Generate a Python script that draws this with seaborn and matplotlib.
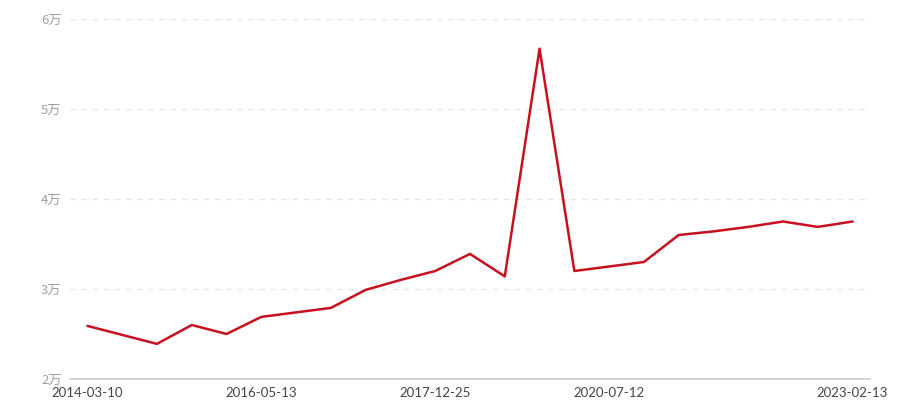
import seaborn as sns
import matplotlib.pyplot as plt
import pandas as pd

# data (23 categories, only some labelled)
tick_pos = [0, 5, 10, 15, 22]
tick_labels = ['2014-03-10', '2016-05-13', '2017-12-25', '2020-07-12', '2023-02-13']
values = [25900, 24900, 23900, 26000, 25000, 26900, 27400, 27900, 29900, 31000,
          32000, 33900, 31400, 56700, 32000, 32500, 33000, 36000, 36400, 36900,
          37500, 36900, 37500]

df = pd.DataFrame({'idx': range(len(values)), 'value': values})

sns.set_style('white')
plt.rcParams['font.family'] = ['Noto Sans CJK SC', 'DejaVu Sans']

fig = plt.figure(figsize=(9, 4), dpi=100)
ax = fig.add_axes([70 / 900, 1 - 379 / 400, 800 / 900, 360 / 400])

sns.lineplot(data=df, x='idx', y='value', color='#c8101f', linewidth=1.8, ax=ax)

ax.set_xlim(-0.5, len(values) - 0.5)
ax.set_ylim(20000, 60000)
yt = [20000, 30000, 40000, 50000, 60000]
ax.set_yticks(yt)
ax.set_yticklabels([f'{v // 10000}万' for v in yt], color='#a0a0a0', fontsize=9.5)
ax.set_xticks(tick_pos)
ax.set_xticklabels(tick_labels, color='#444444', fontsize=9.5, family=['Lato', 'DejaVu Sans'])

for v in yt[1:]:
    ax.axhline(v, color='#e6e6e6', linestyle=(0, (4, 4)), linewidth=1, zorder=0)

for s in ['top', 'right', 'left']:
    ax.spines[s].set_visible(False)
ax.spines['bottom'].set_color('#cccccc')
ax.spines['bottom'].set_linewidth(1.2)
ax.tick_params(axis='x', length=5, color='#cccccc', pad=1)
ax.tick_params(axis='y', length=0, pad=6)
ax.set_xlabel('')
ax.set_ylabel('')

fig.savefig('out.png', dpi=100)
